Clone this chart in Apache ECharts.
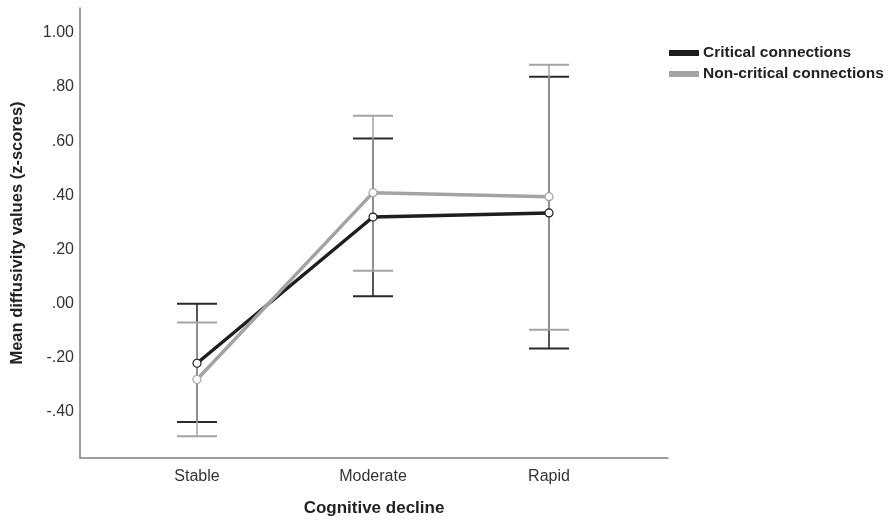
<!DOCTYPE html>
<html>
<head>
<meta charset="utf-8">
<script src="https://cdn.jsdelivr.net/npm/echarts@6/dist/echarts.min.js"></script>
<style>
  html, body { margin: 0; padding: 0; background: #fff; }
  #chart { width: 889px; height: 522px; }
</style>
</head>
<body>
<div id="chart"></div>
<script>
// groups on the x axis, placed at 1, 2, 3
var categories = ['Stable', 'Moderate', 'Rapid'];
var yTicks = [-0.4, -0.2, 0, 0.2, 0.4, 0.6, 0.8, 1.0];

// means and 95% CI bounds
var criticalMean = [-0.22, 0.32, 0.335];
var criticalLow = [-0.437, 0.027, -0.166];
var criticalHigh = [0.0, 0.61, 0.838];

var nonCriticalMean = [-0.28, 0.41, 0.395];
var nonCriticalLow = [-0.49, 0.122, -0.096];
var nonCriticalHigh = [-0.07, 0.694, 0.882];

var BLACK = '#1e1e1e';
var GRAY = '#a3a3a3';

function fmt(v) {
    var s = Math.abs(v).toFixed(2);
    if (s.charAt(0) === '0') s = s.slice(1);
    return (v < -1e-9 ? '-' : '') + s;
}

function pts(means) {
    return means.map(function (m, i) { return [i + 1, m]; });
}

function errData(low, high) {
    return low.map(function (l, i) { return [i + 1, l, high[i]]; });
}

function errSeries(name, low, high, color, capColor) {
    return {
        name: name,
        type: 'custom',
        silent: true,
        z: color === GRAY ? 3 : 2,
        data: errData(low, high),
        renderItem: function (params, api) {
            var x = api.value(0);
            var p1 = api.coord([x, api.value(1)]);
            var p2 = api.coord([x, api.value(2)]);
            var hw = 20;
            var st = { stroke: color, lineWidth: 1.5 };
            var cs = { stroke: capColor, lineWidth: 2 };
            return {
                type: 'group',
                children: [
                    { type: 'line', shape: { x1: p1[0], y1: p1[1], x2: p2[0], y2: p2[1] }, style: st },
                    { type: 'line', shape: { x1: p1[0] - hw, y1: p1[1], x2: p1[0] + hw, y2: p1[1] }, style: cs },
                    { type: 'line', shape: { x1: p2[0] - hw, y1: p2[1], x2: p2[0] + hw, y2: p2[1] }, style: cs }
                ]
            };
        }
    };
}

var chart = echarts.init(document.getElementById('chart'));

chart.setOption({
    animation: false,
    textStyle: { fontFamily: 'Liberation Sans, Arial, sans-serif' },
    grid: { left: 80, right: 221, top: 8, bottom: 62 },
    legend: {
        left: 664,
        top: 40,
        orient: 'vertical',
        itemGap: 5,
        itemWidth: 28,
        itemHeight: 4,
        icon: 'rect',
        textStyle: { fontSize: 15.5, fontWeight: 'bold', color: '#222' },
        data: [
            { name: 'Critical connections', itemStyle: { color: BLACK } },
            { name: 'Non-critical connections', itemStyle: { color: GRAY } }
        ]
    },
    xAxis: {
        type: 'value',
        min: 1 - 117 / 176,
        max: 3 + 119 / 176,
        name: 'Cognitive decline',
        nameLocation: 'middle',
        nameGap: 42,
        nameTextStyle: { fontSize: 17, fontWeight: 'bold', color: '#222' },
        splitLine: { show: false },
        axisTick: { show: false },
        axisLine: { onZero: false, lineStyle: { color: '#808080', width: 1.5 } },
        axisLabel: {
            customValues: [1, 2, 3],
            fontSize: 16,
            color: '#333',
            margin: 11,
            formatter: function (v) { return categories[Math.round(v) - 1] || ''; }
        }
    },
    yAxis: {
        type: 'value',
        min: -0.57,
        max: 1.092,
        name: 'Mean diffusivity values (z-scores)',
        nameLocation: 'middle',
        nameGap: 54,
        nameTextStyle: { fontSize: 16.5, fontWeight: 'bold', color: '#222' },
        splitLine: { show: false },
        axisTick: { show: false },
        axisLine: { show: true, onZero: false, lineStyle: { color: '#808080', width: 1.5 } },
        axisLabel: {
            customValues: yTicks,
            fontSize: 16,
            color: '#333',
            margin: 6,
            formatter: fmt
        }
    },
    series: [
        errSeries('critErr', criticalLow, criticalHigh, BLACK, '#2a2a2a'),
        errSeries('nonCritErr', nonCriticalLow, nonCriticalHigh, GRAY, '#a3a3a3'),
        {
            name: 'Critical connections',
            type: 'line',
            z: 4,
            data: pts(criticalMean),
            symbol: 'circle',
            symbolSize: 8,
            lineStyle: { color: BLACK, width: 3.5 },
            itemStyle: { color: '#fff', borderColor: BLACK, borderWidth: 1.2 }
        },
        {
            name: 'Non-critical connections',
            type: 'line',
            z: 5,
            data: pts(nonCriticalMean),
            symbol: 'circle',
            symbolSize: 8,
            lineStyle: { color: GRAY, width: 3.5 },
            itemStyle: { color: '#fff', borderColor: GRAY, borderWidth: 1.2 }
        }
    ]
});
</script>
</body>
</html>
